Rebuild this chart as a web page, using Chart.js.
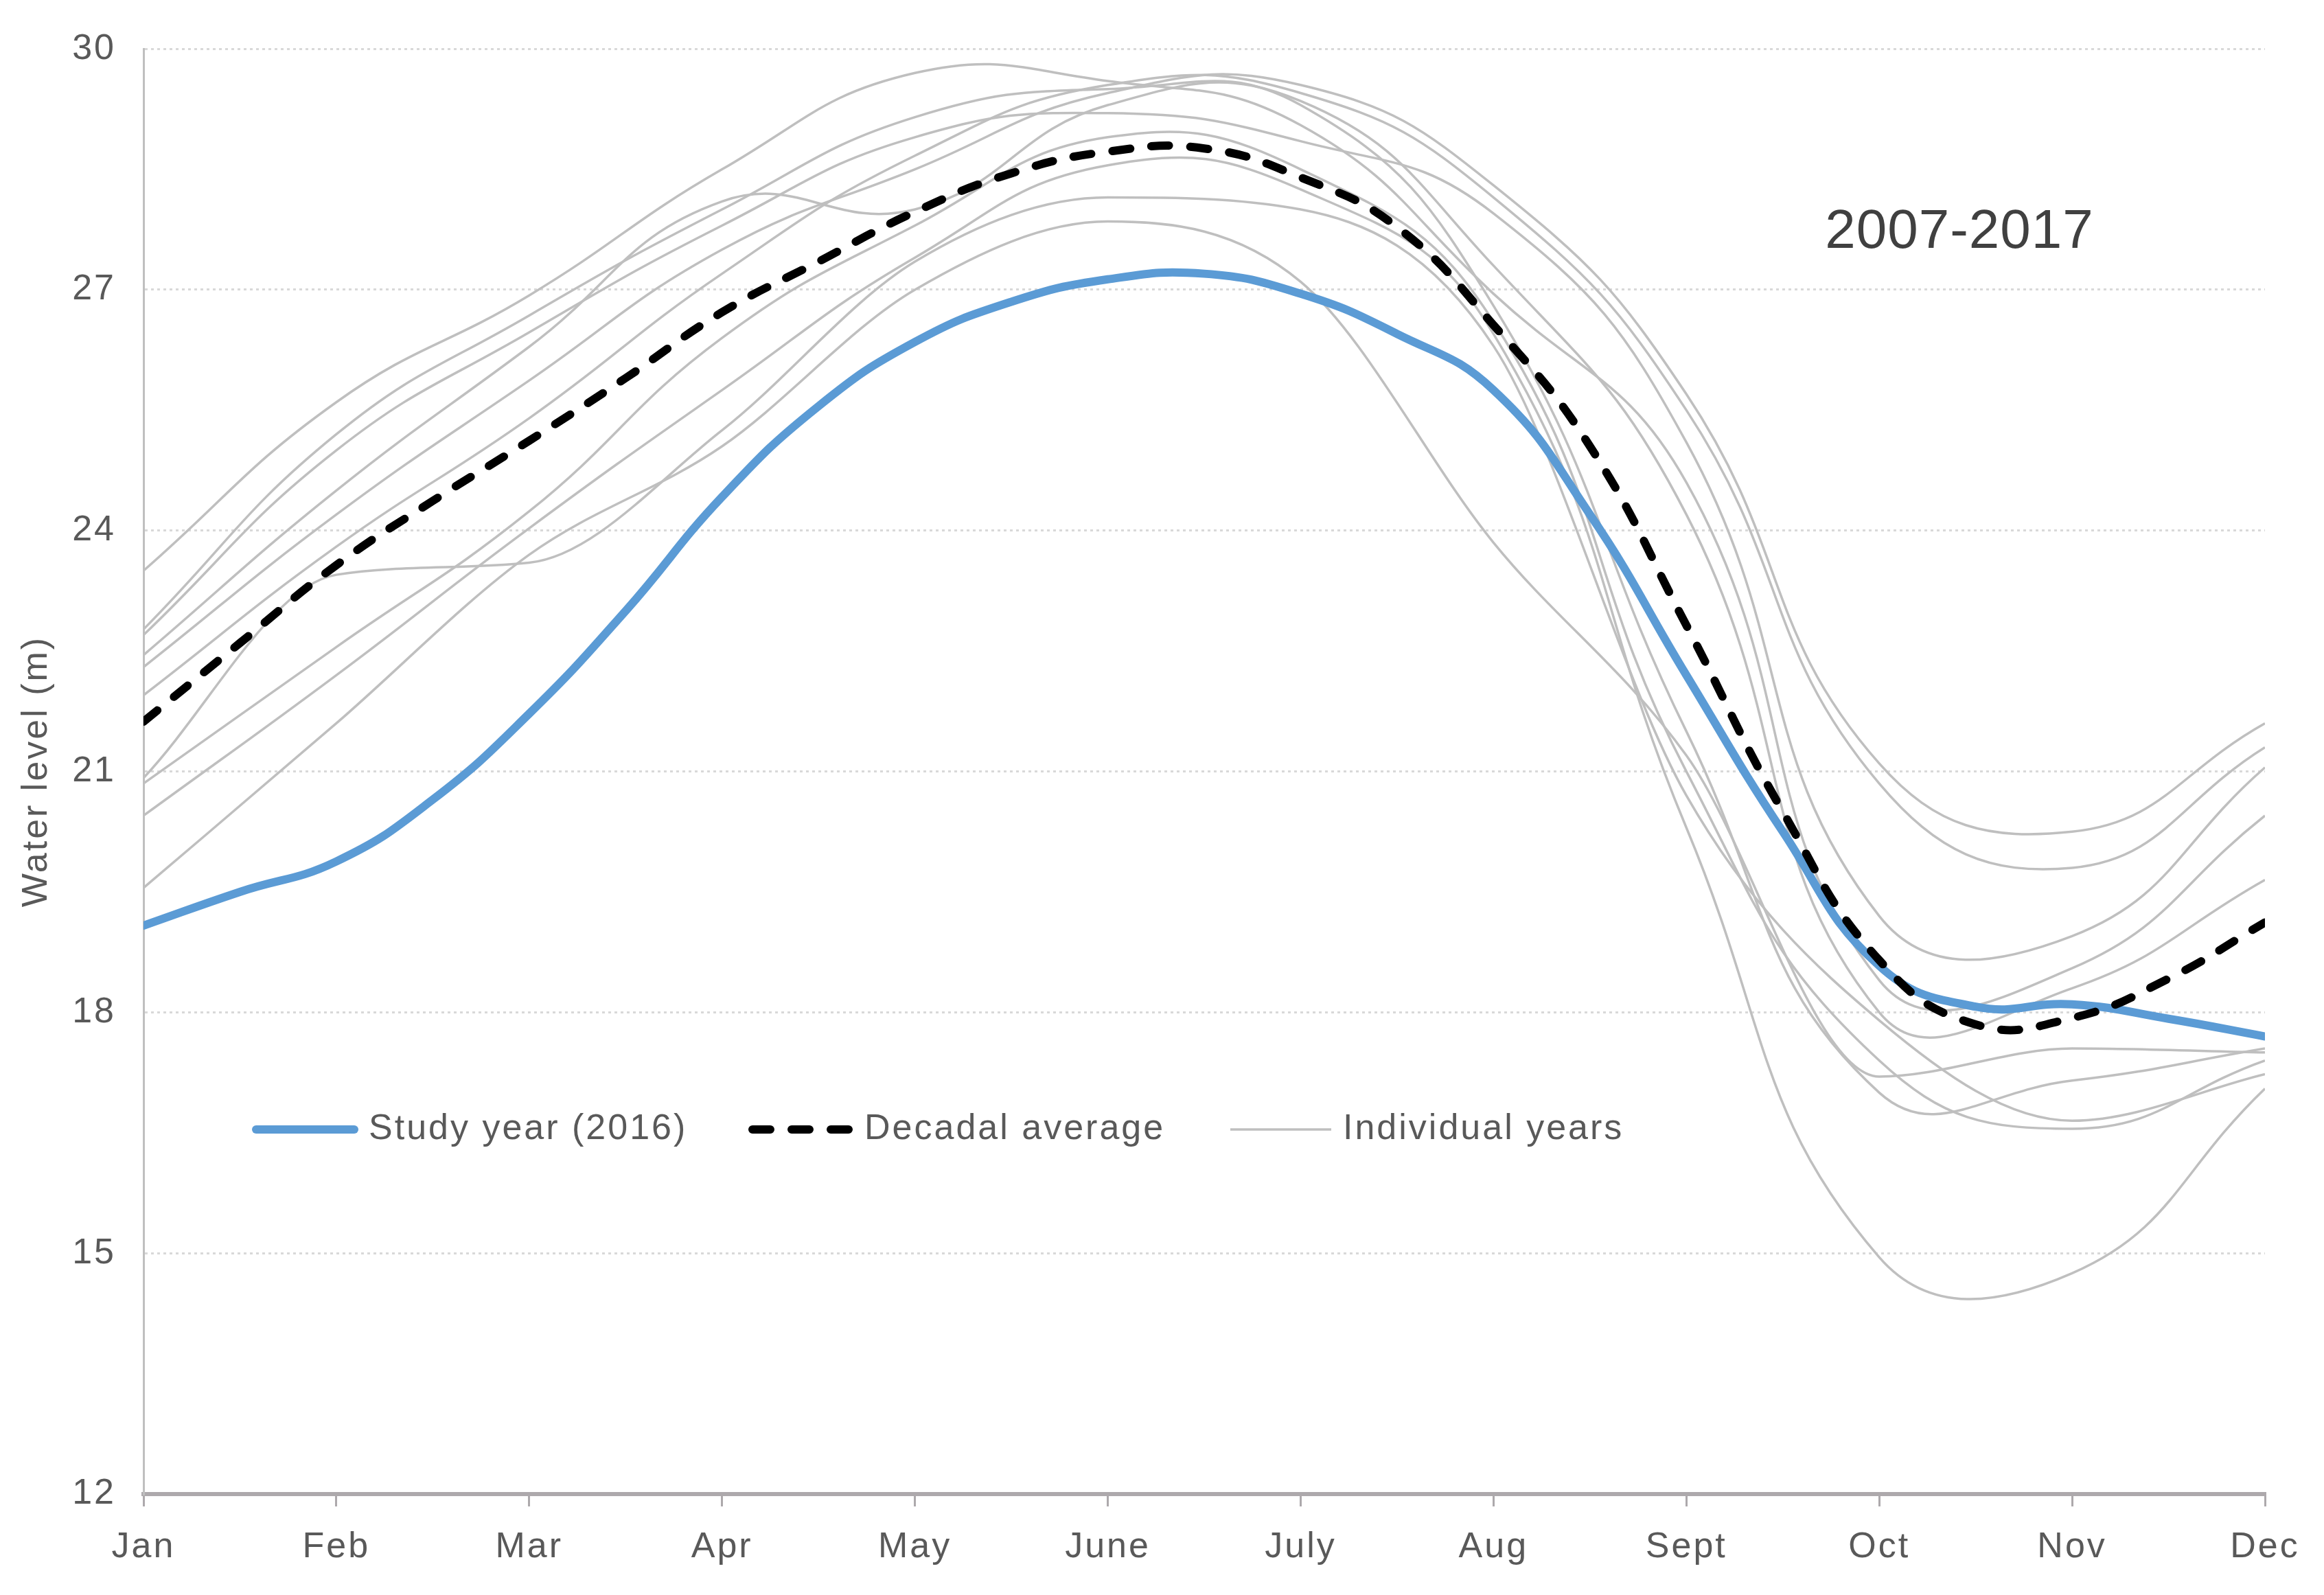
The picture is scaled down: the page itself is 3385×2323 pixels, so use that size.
<!DOCTYPE html>
<html>
<head>
<meta charset="utf-8">
<script src="https://cdn.jsdelivr.net/npm/chart.js@4.4.1/dist/chart.umd.min.js"></script>
<style>
  html, body { margin: 0; padding: 0; background: #fff; }
  #wrap { width: 3385px; height: 2323px; position: relative; }
</style>
</head>
<body>
<div id="wrap"><canvas id="waterChart"></canvas></div>
<script>
// month labels on the x axis (Jan = 0 ... Dec = 11)
const months = ['Jan', 'Feb', 'Mar', 'Apr', 'May', 'June', 'July', 'Aug', 'Sept', 'Oct', 'Nov', 'Dec'];
const levelTicks = [12, 15, 18, 21, 24, 27, 30];

// half-month positions used by the two highlighted series
const halfMonthX = [0, 0.5, 1, 1.5, 2, 2.5, 3, 3.5, 4, 4.5, 5, 5.5, 6, 6.5, 7, 7.5, 8, 8.5, 9, 9.5, 10, 10.5, 11];

const studyYear2016 = [19.08, 19.5, 19.88, 20.65, 21.72, 23.0, 24.42, 25.55, 26.35, 26.85, 27.13, 27.2,
                       26.95, 26.45, 25.75, 24.2, 22.2, 20.25, 18.58, 18.07, 18.1, 17.92, 17.7];
const decadalAverage = [21.62, 22.6, 23.57, 24.37, 25.12, 25.9, 26.72, 27.35, 27.97, 28.45, 28.72, 28.76,
                        28.4, 27.78, 26.56, 25.05, 22.82, 20.5, 18.65, 17.85, 17.93, 18.42, 19.12];

// individual years, one value per month
const indiv01 = [22.3, 24.2, 25.87, 27.5, 28.5, 29.45, 29.55, 28.3, 25.7, 21.1, 20.25, 21.6];
const indiv02 = [21.95, 23.8, 25.4, 27.2, 28.67, 29.55, 29.45, 28.15, 25.5, 20.85, 19.8, 21.3];
const indiv03 = [22.7, 25.0, 26.47, 27.8, 28.9, 29.2, 28.85, 27.95, 25.1, 19.2, 18.95, 21.05];
const indiv04 = [23.5, 25.6, 26.93, 28.5, 29.7, 29.6, 29.05, 26.95, 24.6, 18.4, 18.55, 20.45];
const indiv05 = [22.45, 24.5, 26.29, 28.1, 28.0, 29.3, 29.35, 27.3, 24.2, 18.0, 18.3, 19.65];
const indiv06 = [19.55, 21.6, 23.7, 25.05, 27.0, 27.85, 27.1, 23.85, 21.2, 17.2, 17.55, 17.5];
const indiv07 = [20.92, 23.45, 23.6, 25.25, 27.35, 28.15, 28.0, 26.3, 20.7, 17.9, 16.65, 17.23];
const indiv08 = [20.85, 22.55, 24.24, 26.4, 27.8, 28.9, 28.5, 26.6, 21.0, 17.4, 16.55, 17.4];
const indiv09 = [20.45, 22.2, 24.03, 25.75, 27.4, 28.55, 28.25, 26.45, 20.3, 14.95, 14.75, 17.05];
const indiv10 = [22.77, 25.2, 26.68, 28.0, 29.15, 29.5, 29.3, 26.8, 21.5, 17.0, 17.15, 17.55];
const individualYears = [indiv01, indiv02, indiv03, indiv04, indiv05, indiv06, indiv07, indiv08, indiv09, indiv10];
// years whose record has sharp corners (Excel shows kinks there)
const kinkedYears = [indiv06, indiv07];

const FONT = "'Liberation Sans', Arial, sans-serif";
const TEXT = '#595959';
const BLUE = '#5B9BD5';
const GREY = '#BFBFBF';
const DASH = [26, 31];

function toPoints(xs, ys) {
  return ys.map((y, i) => ({ x: xs[i], y: y }));
}

const greySets = individualYears.map(vals => ({
  label: 'Individual years',
  data: vals.map((y, m) => ({ x: m, y: y })),
  borderColor: GREY,
  borderWidth: 3.5,
  pointRadius: 0,
  tension: 0.45,
  cubicInterpolationMode: kinkedYears.includes(vals) ? 'monotone' : 'default',
  fill: false
}));

// legend + period label, drawn over the plot
const overlay = {
  id: 'overlay',
  beforeDraw(chart) {
    chart.ctx.letterSpacing = '3px';
  },
  afterDraw(chart) {
    const ctx = chart.ctx;
    ctx.save();
    const ly = 1645;
    ctx.lineCap = 'round';

    ctx.strokeStyle = BLUE;
    ctx.lineWidth = 12;
    ctx.beginPath(); ctx.moveTo(373, ly); ctx.lineTo(516, ly); ctx.stroke();

    ctx.strokeStyle = '#000';
    ctx.lineWidth = 12;
    ctx.setLineDash(DASH);
    ctx.beginPath(); ctx.moveTo(1096, ly); ctx.lineTo(1244, ly); ctx.stroke();
    ctx.setLineDash([]);

    ctx.lineCap = 'butt';
    ctx.strokeStyle = GREY;
    ctx.lineWidth = 3.5;
    ctx.beginPath(); ctx.moveTo(1792, ly); ctx.lineTo(1939, ly); ctx.stroke();

    ctx.fillStyle = TEXT;
    ctx.font = '52px ' + FONT;
    ctx.textBaseline = 'middle';
    ctx.textAlign = 'left';
    ctx.fillText('Study year (2016)', 537, ly);
    ctx.fillText('Decadal average', 1259, ly);
    ctx.fillText('Individual years', 1956, ly);

    ctx.letterSpacing = '1px';
    ctx.fillStyle = '#404040';
    ctx.font = '80px ' + FONT;
    ctx.textAlign = 'center';
    ctx.textBaseline = 'alphabetic';
    ctx.fillText('2007-2017', 2854, 361);
    ctx.restore();
  }
};

new Chart(document.getElementById('waterChart'), {
  type: 'line',
  data: {
    datasets: [
      {
        label: 'Decadal average',
        data: toPoints(halfMonthX, decadalAverage),
        borderColor: '#000',
        borderWidth: 12,
        borderDash: DASH,
        borderCapStyle: 'round',
        pointRadius: 0,
        tension: 0.45,
        fill: false
      },
      {
        label: 'Study year (2016)',
        data: toPoints(halfMonthX, studyYear2016),
        borderColor: BLUE,
        borderWidth: 12,
        borderCapStyle: 'round',
        pointRadius: 0,
        tension: 0.45,
        fill: false
      },
      ...greySets
    ]
  },
  options: {
    responsive: true,
    maintainAspectRatio: false,
    devicePixelRatio: 1,
    animation: false,
    layout: { padding: { left: 0, top: 65, right: 86, bottom: 0 } },
    plugins: {
      legend: { display: false },
      tooltip: { enabled: false }
    },
    scales: {
      x: {
        type: 'linear',
        min: 0,
        max: 11,
        afterBuildTicks: s => { s.ticks = months.map((m, i) => ({ value: i })); },
        afterFit: s => { s.height = 147; },
        ticks: {
          callback: v => months[v],
          color: TEXT,
          font: { family: FONT, size: 52 },
          padding: 28,
          maxRotation: 0,
          autoSkip: false
        },
        grid: {
          drawOnChartArea: false,
          drawTicks: true,
          tickLength: 18,
          color: '#ADA9AC',
          lineWidth: 3
        },
        border: { display: true, color: '#ADA9AC', width: 6 }
      },
      y: {
        min: 12,
        max: 30,
        afterBuildTicks: s => { s.ticks = levelTicks.map(v => ({ value: v })); },
        afterFit: s => { s.width = 209; },
        ticks: {
          color: TEXT,
          font: { family: FONT, size: 52 },
          padding: 40
        },
        grid: {
          drawTicks: false,
          color: '#D9D9D9',
          lineWidth: 3
        },
        border: { display: true, color: '#BFBFBF', width: 3, dash: [4, 5] },
        title: {
          display: true,
          text: 'Water level (m)',
          color: TEXT,
          font: { family: FONT, size: 52 },
          padding: { top: 22, bottom: 0 }
        }
      }
    }
  },
  plugins: [overlay]
});
</script>
</body>
</html>
